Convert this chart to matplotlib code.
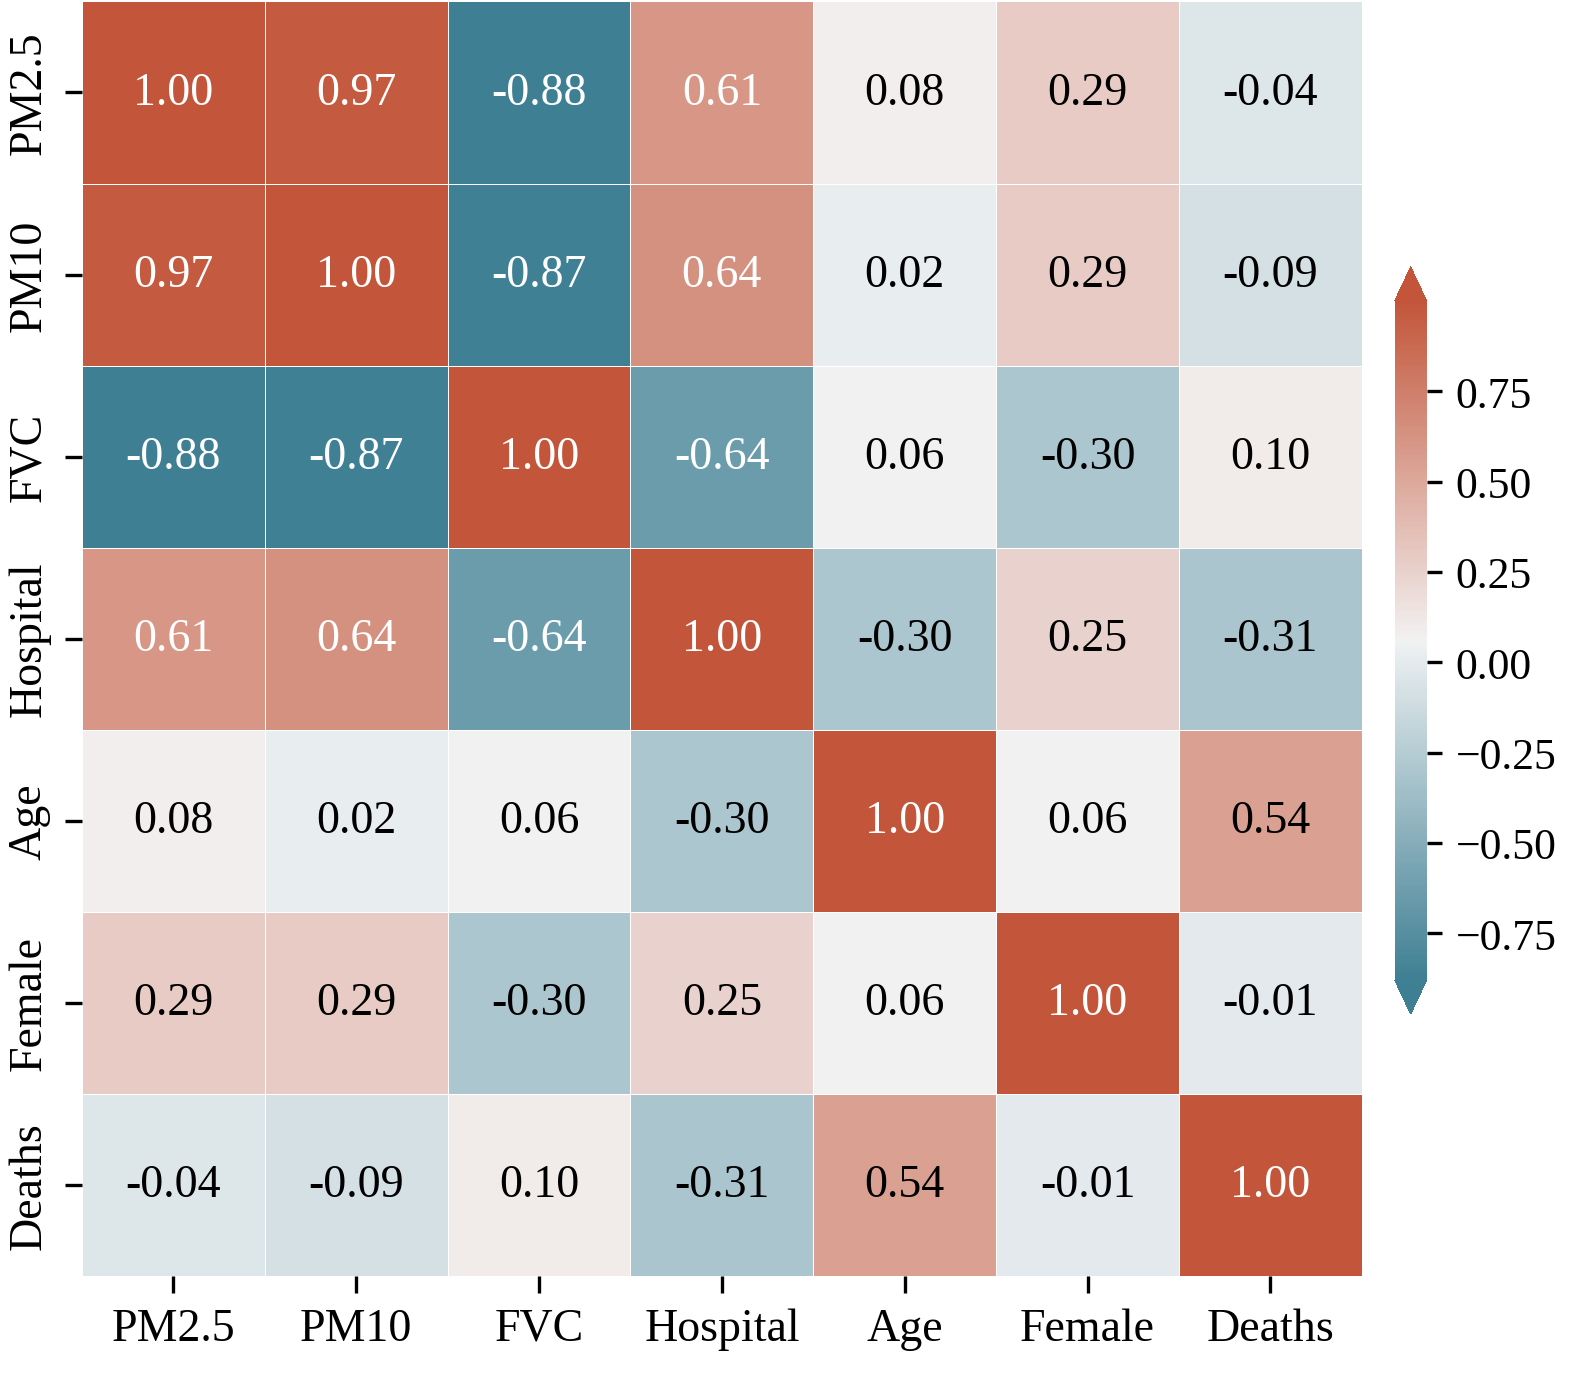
import matplotlib
matplotlib.use("Agg")
import matplotlib.pyplot as plt
import seaborn as sns
import numpy as np
import pandas as pd

labels = ["PM2.5", "PM10", "FVC", "Hospital", "Age", "Female", "Deaths"]

pm25 = [1.00, 0.97, -0.88, 0.61, 0.08, 0.29, -0.04]
pm10 = [0.97, 1.00, -0.87, 0.64, 0.02, 0.29, -0.09]
fvc = [-0.88, -0.87, 1.00, -0.64, 0.06, -0.30, 0.10]
hospital = [0.61, 0.64, -0.64, 1.00, -0.30, 0.25, -0.31]
age = [0.08, 0.02, 0.06, -0.30, 1.00, 0.06, 0.54]
female = [0.29, 0.29, -0.30, 0.25, 0.06, 1.00, -0.01]
deaths = [-0.04, -0.09, 0.10, -0.31, 0.54, -0.01, 1.00]

corr = pd.DataFrame([pm25, pm10, fvc, hospital, age, female, deaths],
                    index=labels, columns=labels)

plt.rcParams['font.family'] = ['Liberation Serif', 'DejaVu Serif']

fig = plt.figure(figsize=(5.313, 4.603), dpi=300)
ax = fig.add_axes([0.0514, 0.0753, 0.803, 0.923])
cax = fig.add_axes([0.875, 0.265, 0.0201, 0.541])

cmap = sns.diverging_palette(220, 20, as_cmap=True)
sns.heatmap(corr, ax=ax, cbar_ax=cax, cmap=cmap,
            annot=True, fmt=".2f", annot_kws={"size": 11},
            linewidths=0.2, linecolor="white",
            cbar_kws={"extend": "both"})

# dark annotations in plain black like the original
for t in ax.texts:
    if t.get_color() != "w":
        t.set_color("black")

ax.tick_params(axis="both", labelsize=11, length=4, width=0.8)
ax.set_yticklabels(labels, rotation=90, va="center")
ax.set_xticklabels(labels, rotation=0)
cax.tick_params(labelsize=10.5)
cax.set_yticks([-0.75, -0.5, -0.25, 0, 0.25, 0.5, 0.75])

plt.savefig("out.png", dpi=300)
